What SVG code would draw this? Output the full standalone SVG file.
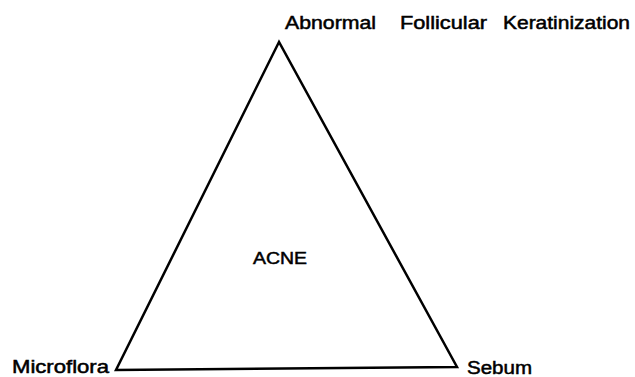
<svg xmlns="http://www.w3.org/2000/svg" width="635" height="377" viewBox="0 0 635 377">
<style>
text{font-family:"Liberation Sans",Arial,sans-serif;fill:#000;stroke:#000;stroke-width:0.5;}
.lbl{font-size:18px;}
.ctr{font-size:17px;}
.edge{stroke:#000;stroke-width:2.5;fill:none;stroke-linejoin:miter;}
</style>
<rect width="635" height="377" fill="#fff"/>
<g id="connectors">
<path class="edge" d="M279,42 L116,370 L457,367 Z"/>
</g>
<g id="node-acne"><text class="ctr" x="253" y="264" textLength="54" lengthAdjust="spacingAndGlyphs">ACNE</text></g>
<g id="node-keratinization">
<text class="lbl" x="285" y="29" textLength="91" lengthAdjust="spacingAndGlyphs">Abnormal</text>
<text class="lbl" x="400" y="29" textLength="87" lengthAdjust="spacingAndGlyphs">Follicular</text>
<text class="lbl" x="503" y="29" textLength="127" lengthAdjust="spacingAndGlyphs">Keratinization</text>
</g>
<g id="node-microflora"><text class="lbl" x="12" y="373" textLength="97" lengthAdjust="spacingAndGlyphs">Microflora</text></g>
<g id="node-sebum"><text class="lbl" x="467" y="374" textLength="65" lengthAdjust="spacingAndGlyphs">Sebum</text></g>
</svg>
